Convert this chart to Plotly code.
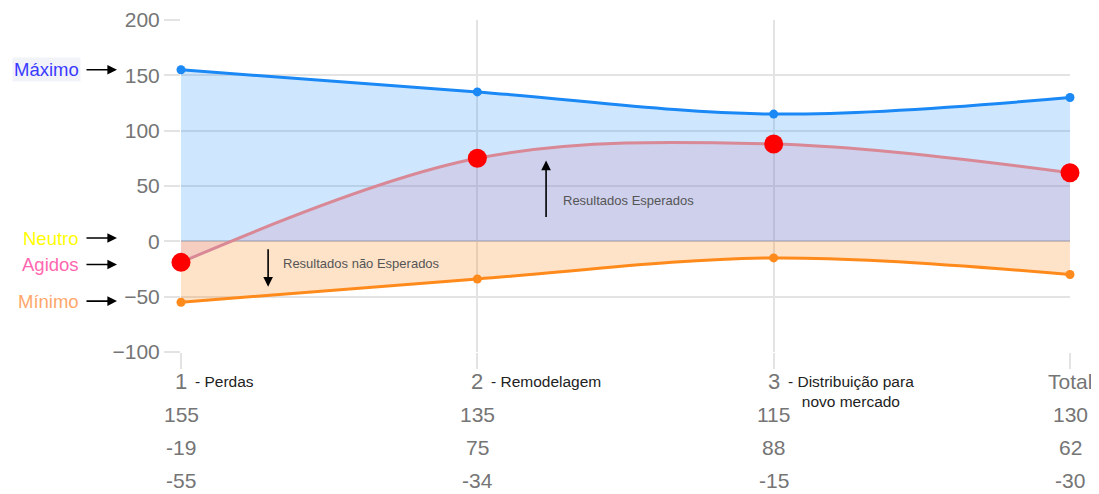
import plotly.graph_objects as go

categories = [0, 1, 2, 3]
cat_numbers = ["1", "2", "3", "Total"]
cat_desc = ["- Perdas", "- Remodelagem", "- Distribuição para<br>novo mercado", ""]
maximo = [155, 135, 115, 130]
agidos = [-19, 75, 88, 62]
minimo = [-55, -34, -15, -30]
y_ticks = [-100, -50, 0, 50, 100, 150, 200]

FONT = "Liberation Sans, Arial, sans-serif"
GREY = "#757575"

fig = go.Figure()

# fills
fig.add_trace(go.Scatter(x=categories, y=maximo, mode="none", fill="tozeroy",
                         fillcolor="rgba(30,140,250,0.22)", line=dict(shape="spline"),
                         hoverinfo="skip", showlegend=False))
fig.add_trace(go.Scatter(x=categories, y=minimo, mode="none", fill="tozeroy",
                         fillcolor="rgba(255,140,30,0.24)", line=dict(shape="spline"),
                         hoverinfo="skip", showlegend=False))
fig.add_trace(go.Scatter(x=categories, y=agidos, mode="none", fill="tozeroy",
                         fillcolor="rgba(210,120,165,0.2)", line=dict(shape="spline"),
                         hoverinfo="skip", showlegend=False))

# lines
fig.add_trace(go.Scatter(x=categories, y=maximo, mode="lines+markers",
                         line=dict(color="#1a88f5", width=3, shape="spline"),
                         marker=dict(size=9, color="#1a88f5"), cliponaxis=False,
                         showlegend=False, name="Máximo"))
fig.add_trace(go.Scatter(x=categories, y=minimo, mode="lines+markers",
                         line=dict(color="#ff8a1c", width=3, shape="spline"),
                         marker=dict(size=9, color="#ff8a1c"), cliponaxis=False,
                         showlegend=False, name="Mínimo"))
fig.add_trace(go.Scatter(x=categories, y=agidos, mode="lines",
                         line=dict(color="#d98896", width=3, shape="spline"),
                         cliponaxis=False, showlegend=False, name="Agidos"))
fig.add_trace(go.Scatter(x=categories, y=agidos, mode="markers",
                         marker=dict(size=19, color="#ff0000"), cliponaxis=False,
                         showlegend=False, name="Agidos"))

ann = []
# category labels
for c, num, desc in zip(categories, cat_numbers, cat_desc):
    if desc:
        ann.append(dict(x=c, y=0, xref="x", yref="paper", yshift=-29, xanchor="center",
                        yanchor="middle", text=num, showarrow=False,
                        font=dict(size=22, color=GREY, family=FONT)))
        ann.append(dict(x=c, y=0, xref="x", yref="paper", yshift=-19, xshift=12,
                        xanchor="left", yanchor="top", text=desc, showarrow=False,
                        align="center", font=dict(size=15.5, color="#222222", family=FONT)))
    else:
        ann.append(dict(x=c, y=0, xref="x", yref="paper", yshift=-29, xanchor="center",
                        yanchor="middle", text=num, showarrow=False,
                        font=dict(size=21, color=GREY, family=FONT)))

# table rows
for row, shift in ((maximo, -62), (agidos, -95), (minimo, -128)):
    for c, v in zip(categories, row):
        ann.append(dict(x=c, y=0, xref="x", yref="paper", yshift=shift, xanchor="center",
                        yanchor="middle", text=str(v), showarrow=False,
                        font=dict(size=21, color=GREY, family=FONT)))

# left labels with arrows
left_labels = [("Máximo", maximo[0], "#3a3aff", "#f1f3f9"),
               ("Neutro", 3, "#ffff00", "rgba(0,0,0,0)"),
               ("Agidos", agidos[0] - 2, "#ff66b0", "rgba(0,0,0,0)"),
               ("Mínimo", minimo[0] + 1, "#ffa76b", "rgba(0,0,0,0)")]
for text, yv, col, bg in left_labels:
    ann.append(dict(x=-0.072, y=yv, xref="paper", yref="y", ax=-32, ay=0,
                    text="", showarrow=True, arrowhead=2, arrowsize=1.2,
                    arrowwidth=1.6, arrowcolor="#000000"))
    ann.append(dict(x=-0.113, y=yv, xref="paper", yref="y", xanchor="right",
                    yanchor="middle", text=text, showarrow=False, bgcolor=bg,
                    font=dict(size=18.5, color=col, family=FONT)))

# inner annotations
ann.append(dict(x=1.232, y=73, xref="x", yref="y", ax=0, ay=58, text="",
                showarrow=True, arrowhead=2, arrowsize=1.2, arrowwidth=1.6,
                arrowcolor="#000000"))
ann.append(dict(x=1.282, y=37, xref="x", yref="y", xanchor="left", yanchor="middle",
                text="Resultados Esperados", showarrow=False,
                font=dict(size=13, color="#555555", family=FONT)))
ann.append(dict(x=0.294, y=-41, xref="x", yref="y", ax=0, ay=-39, text="",
                showarrow=True, arrowhead=2, arrowsize=1.2, arrowwidth=1.6,
                arrowcolor="#000000"))
ann.append(dict(x=0.337, y=-20, xref="x", yref="y", xanchor="left", yanchor="middle",
                text="Resultados não Esperados", showarrow=False,
                font=dict(size=13, color="#555555", family=FONT)))

fig.update_layout(
    width=1091, height=486,
    margin=dict(l=173, r=29, t=12, b=142, autoexpand=False),
    paper_bgcolor="white", plot_bgcolor="white",
    font=dict(family=FONT, color=GREY),
    annotations=ann,
    xaxis=dict(range=[0, 3], tickvals=categories, showticklabels=False,
               showgrid=True, gridcolor="#e3e3e3", gridwidth=1.5, automargin=False,
               ticks="outside", ticklen=16, tickcolor="#e3e3e3", tickwidth=1.5,
               zeroline=False, showline=False, fixedrange=True),
    yaxis=dict(range=[-100, 200], tickvals=y_ticks, showgrid=True, automargin=False,
               gridcolor="#e3e3e3", gridwidth=1.5, ticks="outside", ticklen=16,
               tickcolor="#e3e3e3", tickwidth=1.5,
               tickfont=dict(size=21, color=GREY, family=FONT),
               zeroline=True, zerolinecolor="#cfcfcf", zerolinewidth=1.5,
               showline=False, fixedrange=True),
)

fig.write_html("out.html")
